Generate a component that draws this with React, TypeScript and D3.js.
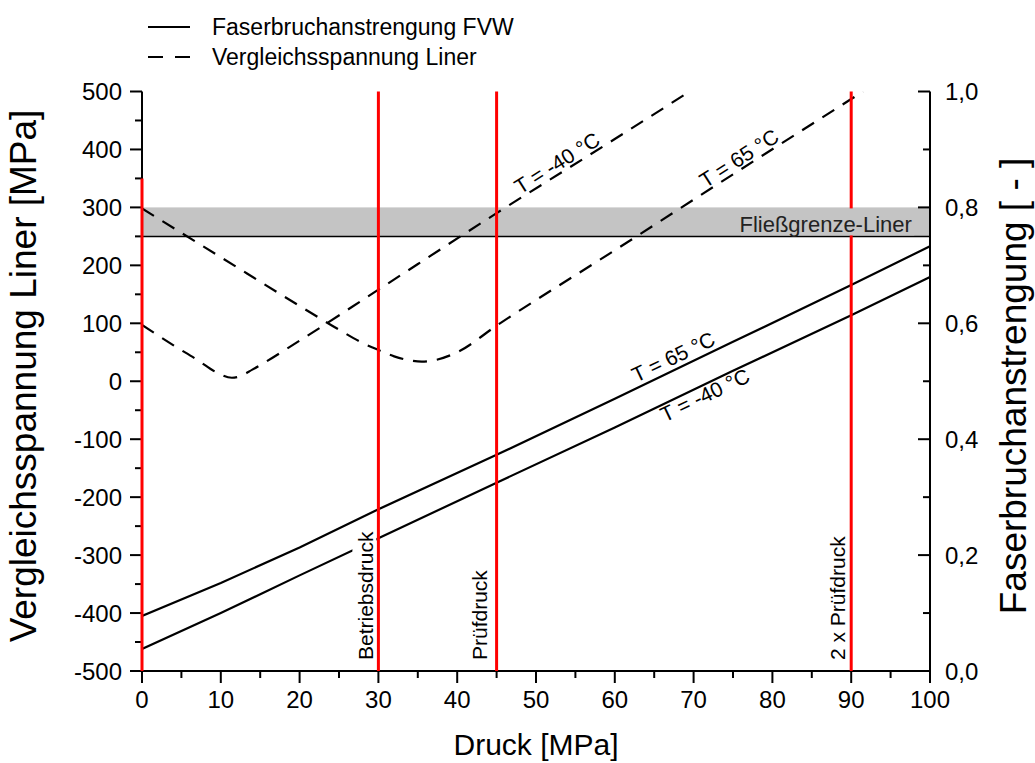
import React from 'react';
import * as d3 from 'd3';

// ---------- data ----------
const pressure = [0, 10, 20, 30, 45, 60, 75, 90, 100];
const fvw65 = [0.095, 0.152, 0.213, 0.279, 0.373, 0.47, 0.568, 0.666, 0.733];
const fvwM40 = [0.038, 0.1, 0.165, 0.229, 0.325, 0.42, 0.518, 0.614, 0.68];

const linerM40X = [0, 4, 7, 9.5, 11.4, 12.5, 14, 20, 30, 45, 60, 69.5];
const linerM40Y = [97, 62, 37, 15, 6, 9, 20, 70, 158, 290, 418, 500];
const liner65X = [0, 10, 20, 25, 28, 30, 32, 34, 35.5, 37, 40, 45, 60, 75, 90, 91.5];
const liner65Y = [298, 214, 130, 89, 66, 54, 43, 36, 34, 36, 50, 96, 226, 357, 487, 500];

const yieldBand = [250, 300];
const yieldLabel = 'Fließgrenze-Liner';
const markerPressures = [0, 30, 45, 90];
const markerTops = [350, 500, 500, 500];
const markerLabels = ['', 'Betriebsdruck', 'Prüfdruck', '2 x Prüfdruck'];

const xTicks = [0, 10, 20, 30, 40, 50, 60, 70, 80, 90, 100];
const xMinorTicks = [5, 15, 25, 35, 45, 55, 65, 75, 85, 95];
const yLeftTicks = [-500, -400, -300, -200, -100, 0, 100, 200, 300, 400, 500];
const yLeftMinor = [-450, -350, -250, -150, -50, 50, 150, 250, 350, 450];
const yRightTicks = [0, 0.2, 0.4, 0.6, 0.8, 1.0];
const yRightMinor = [0.1, 0.3, 0.5, 0.7, 0.9];

const legendItems = ['Faserbruchanstrengung FVW', 'Vergleichsspannung Liner'];

// ---------- layout ----------
const W = 1035, H = 763;
const L = 142, R = 930, T = 91.5, B = 671;
const FONT = "'Liberation Sans', Arial, sans-serif";

const x = d3.scaleLinear().domain([0, 100]).range([L, R]);
const yL = d3.scaleLinear().domain([-500, 500]).range([B, T]);
const yR = d3.scaleLinear().domain([0, 1]).range([B, T]);

const fmtR = (v: number) => d3.format('.1f')(v).replace('.', ',');

type Pt = [number, number];

function labelOnLine(pts: Pt[], px: number, dy: number, text: string, key: string) {
  const f = d3.scaleLinear().domain(pts.map((p) => p[0])).range(pts.map((p) => p[1]));
  const p0: Pt = [px, f(px)];
  const p1: Pt = [px + 30, f(px + 30)];
  const ang = (Math.atan2(p1[1] - p0[1], p1[0] - p0[0]) * 180) / Math.PI;
  return (
    <text key={key} transform={`translate(${p0[0]},${p0[1]}) rotate(${ang})`} y={dy}
      fontSize={21} fontFamily={FONT} fill="#000">{text}</text>
  );
}

export default function App() {
  const solid65: Pt[] = pressure.map((p, i) => [x(p), yR(fvw65[i])]);
  const solidM40: Pt[] = pressure.map((p, i) => [x(p), yR(fvwM40[i])]);
  const dashM40: Pt[] = linerM40X.map((p, i) => [x(p), yL(linerM40Y[i])]);
  const dash65: Pt[] = liner65X.map((p, i) => [x(p), yL(liner65Y[i])]);

  const lineLin = d3.line<Pt>().x((d) => d[0]).y((d) => d[1]);
  const lineSmooth = d3.line<Pt>().x((d) => d[0]).y((d) => d[1]).curve(d3.curveMonotoneX);

  const dash = '14 10';

  return (
    <svg width={W} height={H} style={{ position: 'absolute', left: 0, top: 0, background: '#fff' }}>
      <defs>
        <clipPath id="plot">
          <rect x={L} y={T} width={R - L} height={B - T} />
        </clipPath>
      </defs>

      {/* yield band */}
      <rect x={x(0)} y={yL(yieldBand[1])} width={x(100) - x(0)} height={yL(yieldBand[0]) - yL(yieldBand[1])} fill="#c4c4c4" />
      <line x1={x(0)} x2={x(100)} y1={yL(yieldBand[0])} y2={yL(yieldBand[0])} stroke="#000" strokeWidth={1.5} />

      <g clipPath="url(#plot)">
        <path d={lineLin(solid65) || ''} fill="none" stroke="#000" strokeWidth={2.2} />
        <path d={lineLin(solidM40) || ''} fill="none" stroke="#000" strokeWidth={2.2} />
        <path d={lineSmooth(dashM40) || ''} fill="none" stroke="#000" strokeWidth={2.2} strokeDasharray={dash} />
        <path d={lineSmooth(dash65) || ''} fill="none" stroke="#000" strokeWidth={2.2} strokeDasharray={dash} />
      </g>

      {/* marker label background (Betriebsdruck) */}
      <rect x={x(markerPressures[1]) - 26} y={B - 142} width={24} height={134} fill="#fff" />

      {/* axes */}
      <g stroke="#000" strokeWidth={2} fill="none">
        <line x1={L} x2={L} y1={T} y2={B + 1} />
        <line x1={R} x2={R} y1={T} y2={B + 1} />
        <line x1={L - 1} x2={R + 1} y1={B} y2={B} />
        {xTicks.map((t) => <line key={'xt' + t} x1={x(t)} x2={x(t)} y1={B} y2={B + 12} />)}
        {xMinorTicks.map((t) => <line key={'xm' + t} x1={x(t)} x2={x(t)} y1={B} y2={B + 7} />)}
        {yLeftTicks.map((t) => <line key={'yt' + t} x1={L - 12} x2={L} y1={yL(t)} y2={yL(t)} />)}
        {yLeftMinor.map((t) => <line key={'ym' + t} x1={L - 7} x2={L} y1={yL(t)} y2={yL(t)} />)}
        {yRightTicks.map((t) => <line key={'rt' + t} x1={R - 12} x2={R} y1={yR(t)} y2={yR(t)} />)}
        {yRightMinor.map((t) => <line key={'rm' + t} x1={R - 7} x2={R} y1={yR(t)} y2={yR(t)} />)}
      </g>

      {/* red marker lines */}
      {markerPressures.map((p, i) => (
        <line key={'r' + i} x1={x(p)} x2={x(p)} y1={yL(markerTops[i])} y2={B} stroke="#ff0000" strokeWidth={3} />
      ))}

      {/* marker labels */}
      {markerPressures.map((p, i) => {
        if (!markerLabels[i]) return null;
        const off = i === 2 ? 10 : i === 3 ? 6 : 5;
        return (
          <text key={'ml' + i} transform={`translate(${x(p) - off},${B - 11}) rotate(-90)`} fontSize={21} fontFamily={FONT} fill="#000">
            {markerLabels[i]}
          </text>
        );
      })}

      {/* yield label */}
      <rect x={x(76)} y={yL(yieldBand[1]) + 1} width={x(98) - x(76)} height={yL(yieldBand[0]) - yL(yieldBand[1]) - 2} fill="#c4c4c4" />
      <text x={x(97.7)} y={yL(yieldBand[0]) - 4} textAnchor="end" fontSize={22} fontFamily={FONT} fill="#222">{yieldLabel}</text>

      {/* curve labels */}
      {labelOnLine(solid65, x(63), -5, 'T = 65 °C', 's65')}
      {labelOnLine(solidM40, x(65.4), 17, 'T = -40 °C', 'sm40')}
      {labelOnLine(dashM40, x(48.2), -3, 'T = -40 °C', 'dm40')}
      {labelOnLine(dash65, x(71.7), -3, 'T = 65 °C', 'd65')}

      <g fontFamily={FONT} fontSize={24} fill="#000">
        {xTicks.map((t) => (
          <text key={'xl' + t} x={x(t)} y={708} textAnchor="middle">{t}</text>
        ))}
        {yLeftTicks.map((t) => (
          <text key={'yl' + t} x={L - 20} y={yL(t) + 8.5} textAnchor="end">{t}</text>
        ))}
        {yRightTicks.map((t) => (
          <text key={'rl' + t} x={R + 15} y={yR(t) + 8.5}>{fmtR(t)}</text>
        ))}
      </g>

      {/* axis titles */}
      <text x={(L + R) / 2} y={755} textAnchor="middle" fontFamily={FONT} fontSize={30}>Druck [MPa]</text>
      <text transform={`translate(36,376) rotate(-90)`} textAnchor="middle" fontFamily={FONT} fontSize={37}>
        Vergleichsspannung Liner [MPa]
      </text>
      <text transform={`translate(1026,386) rotate(-90)`} textAnchor="middle" fontFamily={FONT} fontSize={37}>
        Faserbruchanstrengung [ - ]
      </text>

      {/* legend */}
      <g fontFamily={FONT} fontSize={23}>
        <line x1={148} x2={190} y1={27} y2={27} stroke="#000" strokeWidth={2.2} />
        <line x1={148} x2={190} y1={57} y2={57} stroke="#000" strokeWidth={2.2} strokeDasharray="15 12" />
        <text x={212} y={35}>{legendItems[0]}</text>
        <text x={212} y={65}>{legendItems[1]}</text>
      </g>
    </svg>
  );
}
